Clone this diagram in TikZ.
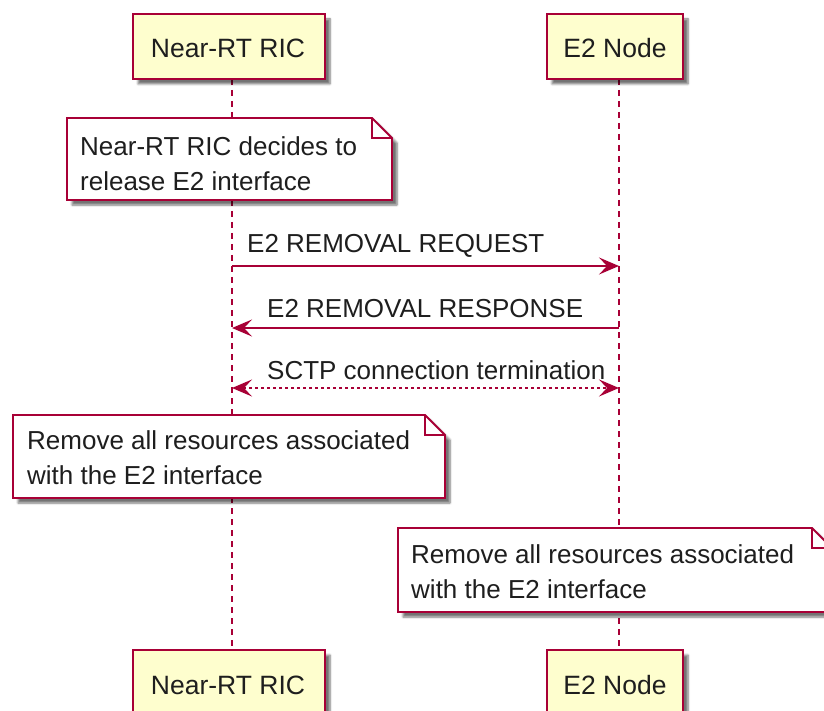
\documentclass[tikz,border=0pt]{standalone}
\usepackage{fontspec}
\setmainfont{Liberation Sans}
\usetikzlibrary{arrows.meta,shadows.blur}
\definecolor{umlred}{HTML}{A80036}
\definecolor{umlfill}{HTML}{FEFECE}
\definecolor{txt}{HTML}{1E1E1E}
\tikzset{
  partbox/.style={draw=umlred, line width=2pt, fill=umlfill, blur shadow={shadow xshift=5pt, shadow yshift=-5pt, shadow blur steps=6, shadow opacity=55}},
  notebox/.style={draw=umlred, line width=1.8pt, fill=white, blur shadow={shadow xshift=5pt, shadow yshift=-5pt, shadow blur steps=6, shadow opacity=55}},
  lifeline/.style={draw=umlred, line width=1.6pt, dash pattern=on 6pt off 5pt},
  msg/.style={draw=umlred, line width=1.8pt, -{Stealth[length=20pt,width=17pt,inset=8pt]}},
  dmsg/.style={draw=umlred, line width=1.8pt, dash pattern=on 3pt off 3pt, {Stealth[length=20pt,width=17pt,inset=8pt]}-{Stealth[length=20pt,width=17pt,inset=8pt]}},
  lbl/.style={font=\fontsize{26}{30}\selectfont, text=txt, inner sep=0pt, anchor=west},
  notetext/.style={font=\fontsize{26}{35}\selectfont, text=txt, inner sep=0pt, anchor=north west, align=left},
  parttext/.style={font=\fontsize{26.5}{30}\selectfont, text=txt, inner sep=0pt}
}
\begin{document}
\begin{tikzpicture}[x=1pt,y=-1pt]
\useasboundingbox (0,0) rectangle (824,711);
\clip (0,0) rectangle (824,711);
% lifelines
\coordinate (ricTop) at (232,79);
\coordinate (ricBot) at (232,650);
\coordinate (e2Top) at (619,79);
\coordinate (e2Bot) at (619,650);
\draw[lifeline] (ricTop) -- (ricBot);
\draw[lifeline] (e2Top) -- (e2Bot);
% participant boxes
\draw[partbox] (133,14) rectangle (325,79);
\node[parttext] (ric1) at (228,48) {Near-RT RIC};
\draw[partbox] (547,14) rectangle (683,79);
\node[parttext] (e21) at (615,48) {E2 Node};
\draw[partbox] (133,650) rectangle (325,720);
\node[parttext] (ric2) at (228,685) {Near-RT RIC};
\draw[partbox] (547,650) rectangle (683,720);
\node[parttext] (e22) at (615,685) {E2 Node};
% note 1
\draw[notebox] (67,118) -- (372,118) -- (392,138) -- (392,200) -- (67,200) -- cycle;
\draw[umlred, line width=1.8pt] (372,118) -- (372,138) -- (392,138);
\node[notetext] (n1) at (80,136) {Near-RT RIC decides to\\release E2 interface};
% messages
\coordinate (m1s) at (232,266); \coordinate (m1e) at (619,266);
\draw[msg] (m1s) -- (m1e);
\node[lbl] (l1) at (247,246) {E2 REMOVAL REQUEST};
\coordinate (m2s) at (619,328); \coordinate (m2e) at (232,328);
\draw[msg] (m2s) -- (m2e);
\node[lbl] (l2) at (267,309) {E2 REMOVAL RESPONSE};
\coordinate (m3s) at (232,388); \coordinate (m3e) at (619,388);
\draw[dmsg] (m3s) -- (m3e);
\node[lbl] (l3) at (267,370) {SCTP connection termination};
% note 2
\draw[notebox] (13,415) -- (425,415) -- (445,435) -- (445,498) -- (13,498) -- cycle;
\draw[umlred, line width=1.8pt] (425,415) -- (425,435) -- (445,435);
\node[notetext] (n2) at (27,430) {Remove all resources associated\\with the E2 interface};
% note 3
\draw[notebox] (398,528) -- (812,528) -- (832,548) -- (832,612) -- (398,612) -- cycle;
\draw[umlred, line width=1.8pt] (812,528) -- (812,548) -- (832,548);
\node[notetext] (n3) at (411,544) {Remove all resources associated\\with the E2 interface};
\end{tikzpicture}
\end{document}
